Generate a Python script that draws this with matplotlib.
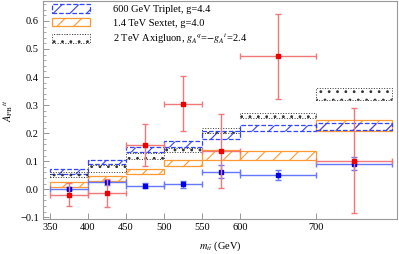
import numpy as np
import matplotlib
matplotlib.use("Agg")
import matplotlib.pyplot as plt
from matplotlib.patches import Patch
from matplotlib.ticker import MultipleLocator

plt.rcParams['font.family'] = 'serif'
plt.rcParams['font.serif'] = ['Liberation Serif', 'DejaVu Serif']
plt.rcParams['mathtext.fontset'] = 'stix'
plt.rcParams['font.size'] = 7.5
plt.rcParams['hatch.linewidth'] = 0.8

# bins in m_tt (GeV)
bin_edges = np.array([350, 400, 450, 500, 550, 600, 700, 800])
bin_lo = bin_edges[:-1]
bin_w = np.diff(bin_edges)
bin_mid = bin_lo + bin_w / 2

# measured A_FB (red)
data_y = [-0.019, -0.012, 0.158, 0.305, 0.137, 0.474, 0.102]
data_err = [0.042, 0.050, 0.074, 0.099, 0.131, 0.152, 0.186]

# SM prediction (blue points)
sm_y = [0.002, 0.024, 0.013, 0.018, 0.063, 0.052, 0.091]
sm_err = [0.006, 0.009, 0.009, 0.012, 0.022, 0.018, 0.023]

# model bands (low, high)
triplet_lo = [0.054, 0.089, 0.132, 0.152, 0.178, 0.208, 0.212]
triplet_hi = [0.071, 0.103, 0.151, 0.171, 0.208, 0.229, 0.237]
sextet_lo = [0.008, 0.028, 0.054, 0.081, 0.105, 0.105, 0.206]
sextet_hi = [0.026, 0.047, 0.073, 0.103, 0.139, 0.137, 0.246]
axi_lo = [0.043, 0.063, 0.108, 0.134, 0.200, 0.254, 0.317]
axi_hi = [0.060, 0.085, 0.128, 0.148, 0.218, 0.271, 0.360]

labels = ["600 GeV Triplet, g=4.4",
          "1.4 TeV Sextet, g=4.0",
          "2 TeV Axigluon, $g_A{}^q$=$-g_A{}^t$=2.4"]

c_orange = '#FF9933'
c_blue = '#3344FF'
c_black = '#333333'

fig = plt.figure(figsize=(3.99, 2.54), dpi=100)
ax = fig.add_axes([0.108, 0.138, 0.887, 0.858])

ax.bar(bin_lo, np.subtract(sextet_hi, sextet_lo), bottom=sextet_lo, width=bin_w,
       align='edge', facecolor='none', edgecolor=c_orange, hatch='//', linewidth=0.9)
ax.bar(bin_lo, np.subtract(triplet_hi, triplet_lo), bottom=triplet_lo, width=bin_w,
       align='edge', facecolor='none', edgecolor=c_blue, hatch='//', linewidth=0.9,
       linestyle='--')
ax.bar(bin_lo, np.subtract(axi_hi, axi_lo), bottom=axi_lo, width=bin_w,
       align='edge', facecolor='none', edgecolor=c_black, hatch='..', linewidth=0.7,
       linestyle=':')

ax.errorbar(bin_mid, sm_y, xerr=bin_w / 2, yerr=sm_err, fmt='none',
            ecolor='#6677FF', elinewidth=1.0, capsize=2.5, capthick=1.0)
ax.plot(bin_mid, sm_y, 's', color='#0000EE', markersize=3.0)

ax.errorbar(bin_mid, data_y, xerr=bin_w / 2, yerr=data_err, fmt='none',
            ecolor='#F07878', elinewidth=1.0, capsize=2.5, capthick=1.0)
ax.plot(bin_mid, data_y, 's', color='#EE0000', markersize=2.5)

ax.set_xlim(341, 807)
ax.set_ylim(-0.106, 0.671)
ax.set_xticks([350, 400, 450, 500, 550, 600, 700])
ax.yaxis.set_major_locator(MultipleLocator(0.1))
ax.yaxis.set_minor_locator(MultipleLocator(0.02))
ax.tick_params(direction='in', color='#888888', length=4, width=0.6, pad=3)
ax.tick_params(which='minor', direction='in', color='#888888', length=2, width=0.5)
for s in ax.spines.values():
    s.set_color('#999999')
    s.set_linewidth(0.8)

ax.set_xlabel(r'$m_{t\bar{t}}$ (GeV)', labelpad=5)
ax.set_ylabel(r'$A_{\rm FB}{}^{t\bar{t}}$', labelpad=4)

handles = [Patch(facecolor='none', edgecolor=c_blue, hatch='//', linestyle='--', linewidth=0.9),
           Patch(facecolor='none', edgecolor=c_orange, hatch='//', linewidth=0.9),
           Patch(facecolor='none', edgecolor=c_black, hatch='..', linestyle=':', linewidth=0.7)]
ax.legend(handles, labels, loc='upper left', bbox_to_anchor=(0.018, 0.995),
          frameon=False, handlelength=3.7, handleheight=0.9, handletextpad=2.2,
          labelspacing=0.35, borderpad=0.2, borderaxespad=0)

fig.savefig('out.png', dpi=100)
